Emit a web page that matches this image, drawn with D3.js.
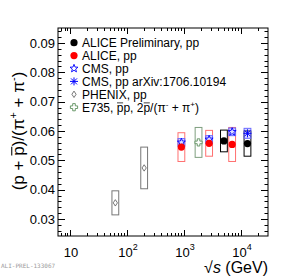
<!DOCTYPE html>
<html>
<head>
<meta charset="utf-8">
<script src="https://cdn.jsdelivr.net/npm/d3@7"></script>
<style>
 body{margin:0;background:#fff;}
 text{font-family:"Liberation Sans",Arial,Helvetica,sans-serif;}
</style>
</head>
<body>
<div id="chart"></div>
<script>
// values (sqrt(s) in GeV, ratio, systematic error)
const alicePrelEnergy = [5020, 13000];
const alicePrelRatio = [0.0566, 0.0557];
const alicePrelSys = [0.0037, 0.0043];

const aliceEnergy = [900, 2760, 7000];
const aliceRatio = [0.0545, 0.0558, 0.0554];
const aliceSys = [0.0049, 0.0044, 0.0058];

const cmsEnergy = [900, 2760, 7000];
const cmsRatio = [0.0561, 0.0571, 0.0597];
const cmsSys = [0.0013, 0.0013, 0.0013];

const cmsNewEnergy = [13000];
const cmsNewRatio = [0.0592];
const cmsNewSys = [0.0017];

const phenixEnergy = [62.4, 200];
const phenixRatio = [0.0355, 0.0474];
const phenixSys = [0.0041, 0.0071];

const e735Energy = [1800];
const e735Ratio = [0.0561];
const e735Sys = [0.0051];

const yTicks = [0.03, 0.04, 0.05, 0.06, 0.07, 0.08, 0.09];
const yTickLabels = ['0.03', '0.04', '0.05', '0.06', '0.07', '0.08', '0.09'];
const xTicks = [10, 100, 1000, 10000];
const xTickExp = ['', '2', '3', '4'];

const legendLabels = ['ALICE Preliminary, pp', 'ALICE, pp', 'CMS, pp', 'CMS, pp arXiv:1706.10194', 'PHENIX, pp', 'E735'];

const width = 291, height = 278;
const frame = {left: 58, right: 268, top: 28, bottom: 236};

const svg = d3.select('#chart').append('svg')
    .attr('width', width)
    .attr('height', height);

const xScale = d3.scaleLog()
    .domain([6.15, 29800])
    .range([frame.left, frame.right]);

const yScale = d3.scaleLinear()
    .domain([0.0242, 0.0951])
    .range([frame.bottom, frame.top]);

const axes = svg.append('g').attr('stroke', '#000').attr('stroke-width', 1);

// frame
axes.append('rect')
    .attr('x', frame.left)
    .attr('y', frame.top)
    .attr('width', frame.right - frame.left)
    .attr('height', frame.bottom - frame.top)
    .attr('fill', 'none');

// y ticks, left and right, pointing inside
const yMinor = d3.range(13, 48).map(d => d * 0.002).filter(v => v >= 0.0242 && v <= 0.0951);
yMinor.forEach(v => {
  const major = yTicks.some(t => Math.abs(t - v) < 1e-6);
  const len = major ? 7 : 3.5;
  const y = Math.round(yScale(v)) + 0.5;
  axes.append('line').attr('x1', frame.left).attr('x2', frame.left + len).attr('y1', y).attr('y2', y);
  axes.append('line').attr('x1', frame.right).attr('x2', frame.right - len).attr('y1', y).attr('y2', y);
});

// x ticks, bottom and top
xScale.ticks().forEach(v => {
  const major = xTicks.includes(v);
  const len = major ? 6 : 3;
  const x = Math.round(xScale(v)) + 0.5;
  axes.append('line').attr('x1', x).attr('x2', x).attr('y1', frame.bottom).attr('y2', frame.bottom - len);
  axes.append('line').attr('x1', x).attr('x2', x).attr('y1', frame.top).attr('y2', frame.top + len);
});

// y tick labels
svg.append('g').selectAll('text')
    .data(yTicks)
    .join('text')
    .attr('x', 55)
    .attr('y', d => yScale(d) + 4.6)
    .attr('text-anchor', 'end')
    .style('font-size', '13px')
    .text((d, i) => yTickLabels[i]);

// x tick labels
xTicks.forEach((v, i) => {
  const t = svg.append('text')
      .attr('x', xScale(v) + 1)
      .attr('y', 257)
      .attr('text-anchor', 'middle')
      .style('font-size', '13px');
  t.append('tspan').text('10');
  if (xTickExp[i]) t.append('tspan').attr('dy', -7).style('font-size', '9px').text(xTickExp[i]);
});

// draws a bar over every tspan with class "bar" (antiproton)
function addBars(g, text, fs) {
  text.selectAll('tspan.bar').each(function() {
    const x0 = this.getStartPositionOfChar(0).x;
    const x1 = this.getEndPositionOfChar(0).x;
    const y0 = this.getStartPositionOfChar(0).y;
    g.append('line')
        .attr('x1', x0 + 0.3).attr('x2', x1 - 0.3)
        .attr('y1', y0 - fs * 0.72).attr('y2', y0 - fs * 0.72)
        .attr('stroke', '#000')
        .attr('stroke-width', fs / 16);
  });
}

// axis titles
const yTitleG = svg.append('g').attr('transform', 'translate(24,131) rotate(-90)');
const yTitle = yTitleG.append('text')
    .attr('text-anchor', 'middle')
    .style('font-size', '17px');
yTitle.append('tspan').text('(p + ');
yTitle.append('tspan').attr('class', 'bar').text('p');
yTitle.append('tspan').text(')/(π');
yTitle.append('tspan').attr('dy', -7).style('font-size', '11px').text('+');
yTitle.append('tspan').attr('dy', 7).text(' + π');
yTitle.append('tspan').attr('dy', -7).style('font-size', '11px').text('-');
yTitle.append('tspan').attr('dy', 7).text(')');
addBars(yTitleG, yTitle, 17);

const xTitle = svg.append('text')
    .attr('x', frame.right)
    .attr('y', 273)
    .attr('text-anchor', 'end')
    .style('font-size', '16px');
xTitle.append('tspan').text('√');
xTitle.append('tspan').style('font-style', 'italic').text('s');
xTitle.append('tspan').text(' (GeV)');

// preliminary tag
svg.append('text')
    .attr('x', 1)
    .attr('y', 268)
    .attr('fill', '#9a9a9a')
    .style('font-family', '"DejaVu Sans Mono",monospace')
    .style('font-size', '6px')
    .text('ALI-PREL-133067');

// marker shapes
function starPath(r) {
  const pts = [];
  for (let k = 0; k < 10; k++) {
    const a = -Math.PI / 2 + k * Math.PI / 5;
    const rr = k % 2 ? r * 0.42 : r;
    pts.push([rr * Math.cos(a), rr * Math.sin(a)]);
  }
  return 'M' + pts.map(p => p.join(',')).join('L') + 'Z';
}

function drawMarker(g, type, x, y) {
  if (type === 'prel') {
    g.append('circle').attr('cx', x).attr('cy', y).attr('r', 3.6).attr('fill', '#000');
  } else if (type === 'alice') {
    g.append('circle').attr('cx', x).attr('cy', y).attr('r', 3.6).attr('fill', '#ff0000');
  } else if (type === 'cms') {
    g.append('path').attr('d', starPath(4.2)).attr('transform', `translate(${x},${y})`)
        .attr('fill', 'none').attr('stroke', '#0000ff').attr('stroke-width', 0.9);
  } else if (type === 'cmsNew') {
    const m = g.append('g').attr('transform', `translate(${x},${y})`)
        .attr('stroke', '#0000ff').attr('stroke-width', 1);
    m.append('line').attr('x1', -4).attr('x2', 4).attr('y1', 0).attr('y2', 0);
    m.append('line').attr('x1', 0).attr('x2', 0).attr('y1', -4).attr('y2', 4);
    m.append('line').attr('x1', -3).attr('x2', 3).attr('y1', -3).attr('y2', 3);
    m.append('line').attr('x1', -3).attr('x2', 3).attr('y1', 3).attr('y2', -3);
  } else if (type === 'phenix') {
    g.append('path').attr('d', `M${x},${y - 3.2}L${x + 2.1},${y}L${x},${y + 3.2}L${x - 2.1},${y}Z`)
        .attr('fill', '#fff').attr('stroke', '#555').attr('stroke-width', 0.8);
  } else if (type === 'e735') {
    const s = 3.6, w = 1.3;
    g.append('path')
        .attr('d', `M${x - w},${y - s}H${x + w}V${y - w}H${x + s}V${y + w}H${x + w}V${y + s}H${x - w}V${y + w}H${x - s}V${y - w}H${x - w}Z`)
        .attr('fill', '#fff').attr('stroke', '#5c8f5c').attr('stroke-width', 0.9);
  }
}

// systematic boxes
const plot = svg.append('g');
function drawBoxes(energy, ratio, sys, stroke, fill) {
  plot.append('g').selectAll('rect')
      .data(energy)
      .join('rect')
      .attr('x', d => xScale(d) - 3.4)
      .attr('y', (d, i) => yScale(ratio[i] + sys[i]))
      .attr('width', 6.8)
      .attr('height', (d, i) => yScale(ratio[i] - sys[i]) - yScale(ratio[i] + sys[i]))
      .attr('fill', fill)
      .attr('stroke', stroke)
      .attr('stroke-width', 1);
}

drawBoxes(phenixEnergy, phenixRatio, phenixSys, '#777', 'none');
drawBoxes(e735Energy, e735Ratio, e735Sys, '#7f9f7f', 'none');
drawBoxes(alicePrelEnergy, alicePrelRatio, alicePrelSys, '#000', 'none');
drawBoxes(aliceEnergy, aliceRatio, aliceSys, '#ff7070', 'none');
drawBoxes(cmsEnergy, cmsRatio, cmsSys, '#6a6aff', 'rgba(120,120,255,0.25)');
drawBoxes(cmsNewEnergy, cmsNewRatio, cmsNewSys, '#6a6aff', 'rgba(120,120,255,0.25)');

phenixEnergy.forEach((d, i) => drawMarker(plot, 'phenix', xScale(d), yScale(phenixRatio[i])));
e735Energy.forEach((d, i) => drawMarker(plot, 'e735', xScale(d), yScale(e735Ratio[i])));
cmsEnergy.forEach((d, i) => drawMarker(plot, 'cms', xScale(d), yScale(cmsRatio[i])));
cmsNewEnergy.forEach((d, i) => drawMarker(plot, 'cmsNew', xScale(d), yScale(cmsNewRatio[i])));
aliceEnergy.forEach((d, i) => drawMarker(plot, 'alice', xScale(d), yScale(aliceRatio[i])));
alicePrelEnergy.forEach((d, i) => drawMarker(plot, 'prel', xScale(d), yScale(alicePrelRatio[i])));

// legend
const legend = svg.append('g');
const legendTypes = ['prel', 'alice', 'cms', 'cmsNew', 'phenix', 'e735'];
legendTypes.forEach((type, i) => {
  const y = 42.7 + i * 12.9;
  drawMarker(legend, type, 74, y);
  const t = legend.append('text')
      .attr('x', 82)
      .attr('y', y + 4.3)
      .style('font-size', '12px');
  if (type !== 'e735') {
    t.text(legendLabels[i]);
  } else {
    t.append('tspan').text('E735,  ');
    t.append('tspan').attr('class', 'bar').text('p');
    t.append('tspan').text('p, 2');
    t.append('tspan').attr('class', 'bar').text('p');
    t.append('tspan').text('/(π');
    t.append('tspan').attr('dy', -5).style('font-size', '8px').text('-');
    t.append('tspan').attr('dy', 5).text(' + π');
    t.append('tspan').attr('dy', -5).style('font-size', '8px').text('+');
    t.append('tspan').attr('dy', 5).text(')');
    addBars(legend, t, 12);
  }
});
</script>
</body>
</html>
